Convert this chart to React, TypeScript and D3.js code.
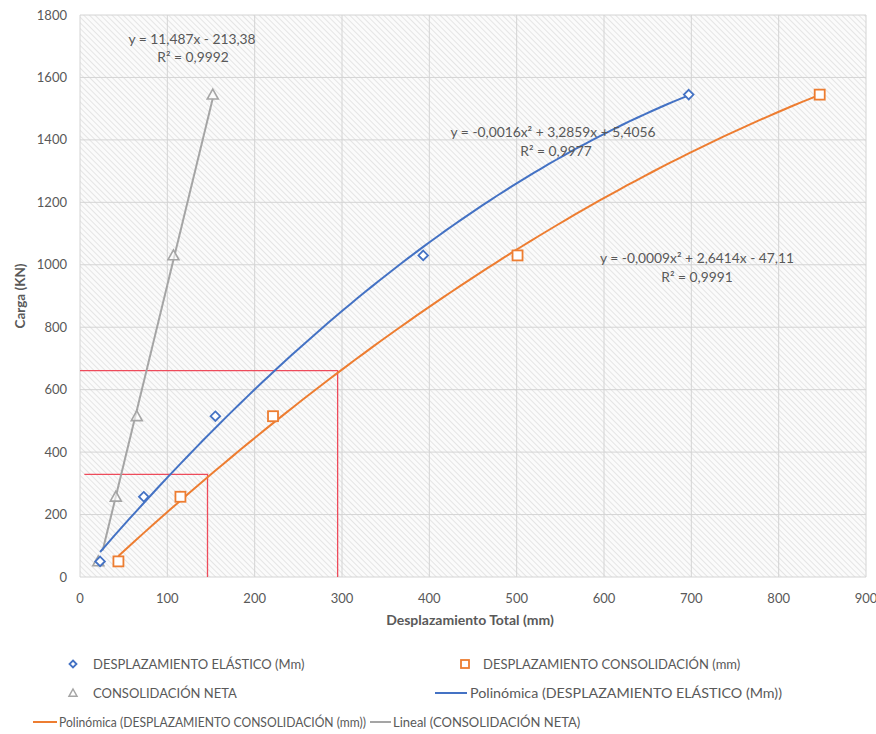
import React from "react";
import * as d3 from "d3";

const LOADS = [50, 257, 515, 1030, 1545];
const ELASTIC_X = [23, 73, 155, 393, 697];
const CONSOL_X = [44, 115, 221, 501, 847];
const NETA_X = [21, 41, 65, 107, 152];

const X_TICKS = [0, 100, 200, 300, 400, 500, 600, 700, 800, 900];
const Y_TICKS = [0, 200, 400, 600, 800, 1000, 1200, 1400, 1600, 1800];

// trendline coefficients [a, b, c] for y = a x^2 + b x + c (unrounded estimates)
const ELASTIC_POLY = [-0.00155, 3.2859, 5.4056];
const CONSOL_POLY = [-0.0009, 2.6414, -47.11];
const NETA_LIN = [0, 11.487, -213.38];
const NETA_TREND_START = 26;

const EQ_NETA = ["y = 11,487x - 213,38", "R² = 0,9992"];
const EQ_ELASTIC = ["y = -0,0016x² + 3,2859x + 5,4056", "R² = 0,9977"];
const EQ_CONSOL = ["y = -0,0009x² + 2,6414x - 47,11", "R² = 0,9991"];

// reference (red) lines: from (x0, y) to (x, y) then down to (x, 0)
const REF_X0 = [5, 0];
const REF_X = [146, 295];
const REF_Y = [329, 661];

const BLUE = "#4472C4";
const ORANGE = "#ED7D31";
const GREY = "#A5A5A5";
const RED = "#EE4B5B";
const TEXT = "#595959";
const FONT = "Lato, 'Open Sans', sans-serif";

const W = 876, H = 734;
const x = d3.scaleLinear().domain([0, 900]).range([80, 866]);
const y = d3.scaleLinear().domain([0, 1800]).range([577, 15]);

function polyPath(c: number[], x0: number, x1: number) {
  const pts: [number, number][] = [];
  const n = 80;
  for (let i = 0; i <= n; i++) {
    const xv = x0 + ((x1 - x0) * i) / n;
    pts.push([xv, c[0] * xv * xv + c[1] * xv + c[2]]);
  }
  return d3.line<[number, number]>().x((d) => x(d[0])).y((d) => y(d[1]))(pts) || "";
}

const diamond = (cx: number, cy: number, r = 4.8) =>
  `M${cx},${cy - r}L${cx + r},${cy}L${cx},${cy + r}L${cx - r},${cy}Z`;
const triangle = (cx: number, cy: number, r = 5.5) =>
  `M${cx},${cy - r}L${cx + r},${cy + r * 0.8}L${cx - r},${cy + r * 0.8}Z`;

export default function App() {
  return (
    <svg
      width={W}
      height={H}
      style={{ position: "absolute", left: 0, top: 0, background: "#fff" }}
      fontFamily={FONT}
    >
      <defs>
        <pattern id="hatch" width="4" height="4" patternUnits="userSpaceOnUse" patternTransform="rotate(-45)">
          <rect width="4" height="4" fill="#fbfbfb" />
          <line x1="0" y1="0" x2="0" y2="4" stroke="#d6d6d6" strokeWidth="1.2" />
        </pattern>
      </defs>
      <rect x={x(0)} y={y(1800)} width={x(900) - x(0)} height={y(0) - y(1800)} fill="url(#hatch)" />
      {/* grid */}
      {X_TICKS.map((t) => (
        <line key={"gx" + t} x1={x(t)} x2={x(t)} y1={y(0)} y2={y(1800)} stroke="#d4d4d4" strokeWidth={1} />
      ))}
      {Y_TICKS.map((t) => (
        <line key={"gy" + t} x1={x(0)} x2={x(900)} y1={y(t)} y2={y(t)} stroke="#d4d4d4" strokeWidth={1} />
      ))}
      {/* tick labels */}
      {X_TICKS.map((t) => (
        <text key={"tx" + t} x={x(t)} y={603} textAnchor="middle" fontSize={13} fill={TEXT}>
          {t}
        </text>
      ))}
      {Y_TICKS.map((t) => (
        <text key={"ty" + t} x={67} y={y(t) + 4.5} textAnchor="end" fontSize={13} fill={TEXT}>
          {t}
        </text>
      ))}
      {/* axis titles */}
      <text x={470} y={625} textAnchor="middle" fontSize={14} fontWeight="bold" fill={TEXT}>
        Desplazamiento Total (mm)
      </text>
      <text transform={`translate(25,${y(900)}) rotate(-90)`} textAnchor="middle" fontSize={13.5} fontWeight="bold" fill={TEXT}>
        Carga (KN)
      </text>
      {/* red reference lines */}
      {REF_X.map((rx, i) => (
        <path
          key={"ref" + i}
          d={`M${x(REF_X0[i])},${y(REF_Y[i])}H${x(rx)}V${y(0)}`}
          fill="none"
          stroke={RED}
          strokeWidth={1.3}
        />
      ))}
      {/* trendlines */}
      <path d={polyPath(NETA_LIN, NETA_TREND_START, d3.max(NETA_X)!)} fill="none" stroke={GREY} strokeWidth={2} />
      <path d={polyPath(ELASTIC_POLY, d3.min(ELASTIC_X)!, d3.max(ELASTIC_X)!)} fill="none" stroke={BLUE} strokeWidth={2} />
      <path d={polyPath(CONSOL_POLY, d3.min(CONSOL_X)!, d3.max(CONSOL_X)!)} fill="none" stroke={ORANGE} strokeWidth={2} />
      {/* markers */}
      {NETA_X.map((xv, i) => (
        <path key={"n" + i} d={triangle(x(xv), y(LOADS[i]))} fill="#fff" fillOpacity={0.6} stroke={GREY} strokeWidth={1.6} />
      ))}
      {ELASTIC_X.map((xv, i) => (
        <path key={"e" + i} d={diamond(x(xv), y(LOADS[i]))} fill="#fff" stroke={BLUE} strokeWidth={1.8} />
      ))}
      {CONSOL_X.map((xv, i) => (
        <rect key={"c" + i} x={x(xv) - 5} y={y(LOADS[i]) - 5} width={10} height={10} fill="#fff" stroke={ORANGE} strokeWidth={1.8} />
      ))}
      {/* equations */}
      <g fontSize={13.8} fill={TEXT} textAnchor="middle">
        <text x={192} y={44}>{EQ_NETA[0]}</text>
        <text x={193} y={62}>{EQ_NETA[1]}</text>
        <text x={553} y={137}>{EQ_ELASTIC[0]}</text>
        <text x={556} y={156}>{EQ_ELASTIC[1]}</text>
        <text x={697} y={263}>{EQ_CONSOL[0]}</text>
        <text x={697} y={282}>{EQ_CONSOL[1]}</text>
      </g>
      {/* legend */}
      <g fontSize={13} fill={TEXT}>
        <path d={diamond(73, 664, 3.5)} fill="#fff" stroke={BLUE} strokeWidth={1.8} />
        <text x={93} y={668.5}>DESPLAZAMIENTO ELÁSTICO (Mm)</text>
        <rect x={461} y={660} width={8} height={8} fill="#fff" stroke={ORANGE} strokeWidth={1.8} />
        <text x={483} y={668.5}>DESPLAZAMIENTO CONSOLIDACIÓN (mm)</text>
        <path d={triangle(73, 693, 4)} fill="#fff" stroke={GREY} strokeWidth={1.5} />
        <text x={93} y={697.5}>CONSOLIDACIÓN NETA</text>
        <line x1={435} x2={467} y1={693} y2={693} stroke={BLUE} strokeWidth={2} />
        <text x={470} y={697.5} textLength={312} lengthAdjust="spacingAndGlyphs">Polinómica (DESPLAZAMIENTO ELÁSTICO (Mm))</text>
        <line x1={33} x2={57} y1={722} y2={722} stroke={ORANGE} strokeWidth={2} />
        <text x={59} y={726.5} textLength={307} lengthAdjust="spacingAndGlyphs">Polinómica (DESPLAZAMIENTO CONSOLIDACIÓN (mm))</text>
        <line x1={370} x2={391} y1={722} y2={722} stroke={GREY} strokeWidth={2} />
        <text x={393} y={726.5}>Lineal (CONSOLIDACIÓN NETA)</text>
      </g>
    </svg>
  );
}
